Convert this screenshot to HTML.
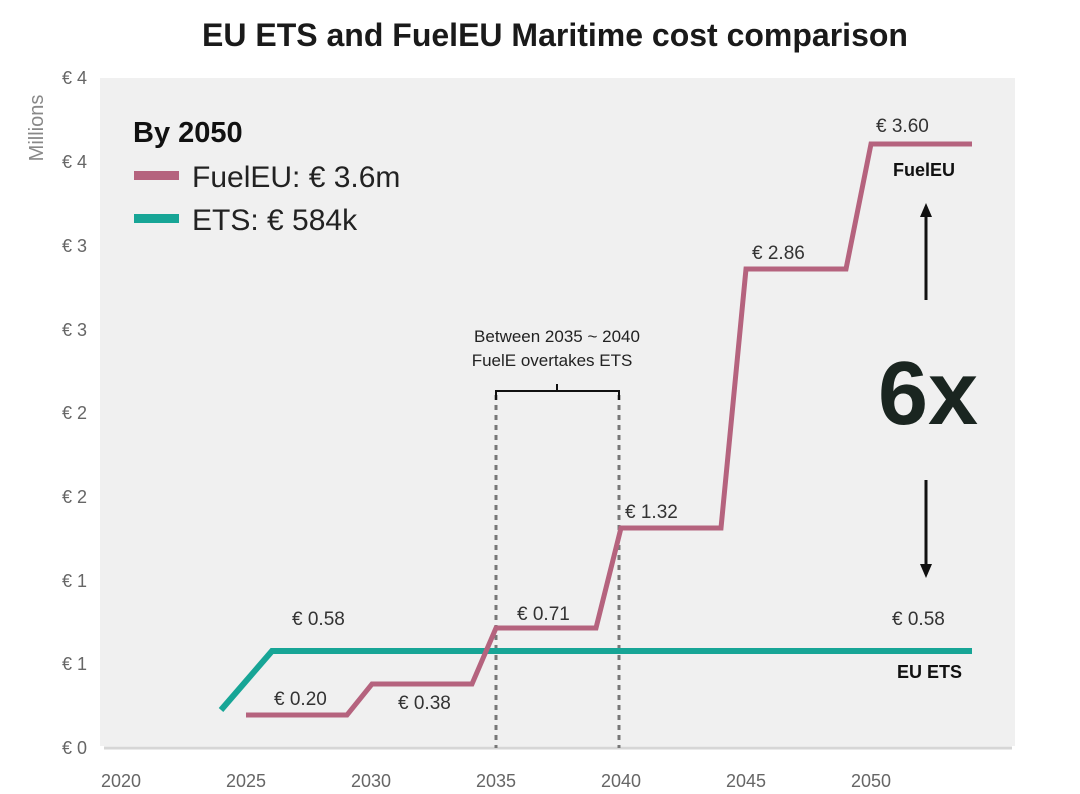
<!DOCTYPE html>
<html><head><meta charset="utf-8"><style>
body{margin:0;background:#fff;}
svg{display:block;font-family:"Liberation Sans",sans-serif;}
</style></head><body>
<svg width="1080" height="794" viewBox="0 0 1080 794">
<rect width="1080" height="794" fill="#fff"/>
<text x="555" y="46" text-anchor="middle" font-size="32" font-weight="bold" fill="#1a1a1a">EU ETS and FuelEU Maritime cost comparison</text>
<rect x="100" y="78" width="915" height="668" fill="#f0f0f0"/>
<line x1="104" y1="748" x2="1012" y2="748" stroke="#d6d6d6" stroke-width="3"/>
<g font-size="18" fill="#666" text-anchor="end">
<text x="87" y="84">€ 4</text><text x="87" y="168">€ 4</text><text x="87" y="252">€ 3</text>
<text x="87" y="336">€ 3</text><text x="87" y="419">€ 2</text><text x="87" y="503">€ 2</text>
<text x="87" y="587">€ 1</text><text x="87" y="670">€ 1</text><text x="87" y="754">€ 0</text>
</g>
<text transform="translate(43,128) rotate(-90)" text-anchor="middle" font-size="20" fill="#888">Millions</text>
<g font-size="18" fill="#666" text-anchor="middle">
<text x="121" y="787">2020</text><text x="246" y="787">2025</text><text x="371" y="787">2030</text>
<text x="496" y="787">2035</text><text x="621" y="787">2040</text><text x="746" y="787">2045</text><text x="871" y="787">2050</text>
</g>
<text x="133" y="142" font-size="29" font-weight="bold" fill="#111">By 2050</text>
<rect x="134" y="171" width="45" height="9" fill="#b5637e"/>
<text x="192" y="187" font-size="30" fill="#222">FuelEU: € 3.6m</text>
<rect x="134" y="214" width="45" height="9" fill="#17a596"/>
<text x="192" y="230" font-size="30" fill="#222">ETS: € 584k</text>
<line x1="496" y1="395" x2="496" y2="748" stroke="#777" stroke-width="3" stroke-dasharray="5,5"/>
<line x1="619" y1="395" x2="619" y2="748" stroke="#777" stroke-width="3" stroke-dasharray="5,5"/>
<path d="M496 400 V391 H619 V400 M557 391 V384" fill="none" stroke="#111" stroke-width="2"/>
<text x="557" y="342" text-anchor="middle" font-size="17" fill="#222">Between 2035 ~ 2040</text>
<text x="552" y="366" text-anchor="middle" font-size="17" fill="#222">FuelE overtakes ETS</text>
<polyline points="221,710 272,651 972,651" fill="none" stroke="#17a596" stroke-width="6"/>
<polyline points="246,715 347,715 372,684 472,684 496,628 596,628 621,528 721,528 746,269 846,269 871,144 972,144" fill="none" stroke="#b5637e" stroke-width="5"/>
<g font-size="19" fill="#333">
<text x="292" y="625">€ 0.58</text><text x="274" y="705">€ 0.20</text><text x="398" y="709">€ 0.38</text>
<text x="517" y="620">€ 0.71</text><text x="625" y="518">€ 1.32</text><text x="752" y="259">€ 2.86</text>
<text x="876" y="132">€ 3.60</text><text x="892" y="625">€ 0.58</text>
</g>
<text x="893" y="176" font-size="18" font-weight="bold" fill="#111">FuelEU</text>
<text x="897" y="678" font-size="18" font-weight="bold" fill="#111">EU ETS</text>
<text x="928" y="424" text-anchor="middle" font-size="90" font-weight="bold" fill="#1a2520">6x</text>
<line x1="926" y1="300" x2="926" y2="215" stroke="#111" stroke-width="3"/>
<polygon points="926,203 920,217 932,217" fill="#111"/>
<line x1="926" y1="480" x2="926" y2="566" stroke="#111" stroke-width="3"/>
<polygon points="926,578 920,564 932,564" fill="#111"/>
</svg>
</body></html>
